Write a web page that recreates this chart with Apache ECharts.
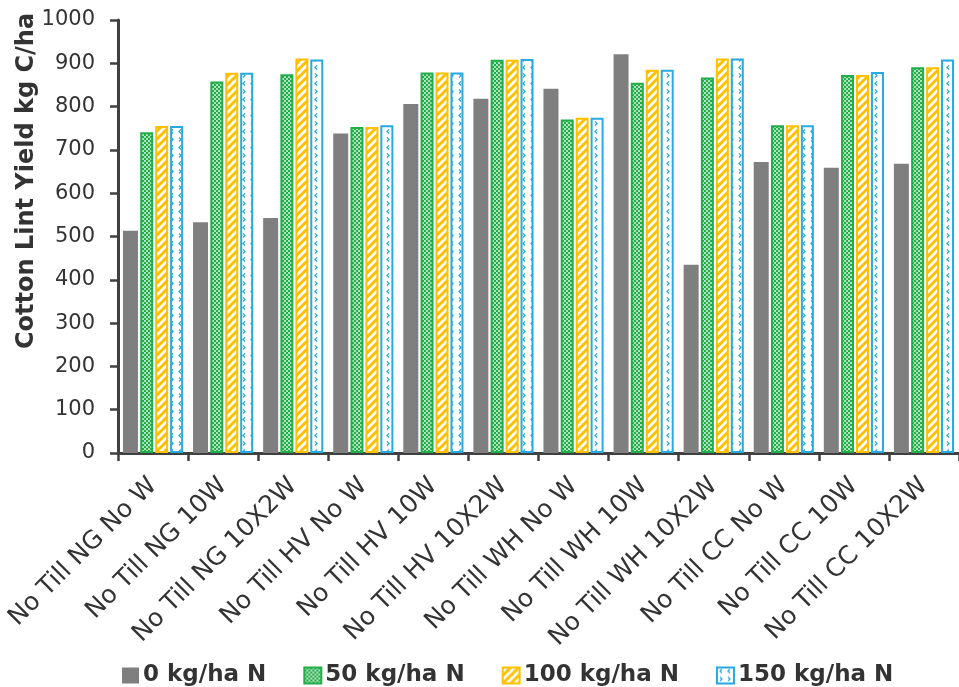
<!DOCTYPE html>
<html>
<head>
<meta charset="utf-8">
<script src="https://cdn.jsdelivr.net/npm/echarts@6/dist/echarts.min.js"></script>
<style>
html,body{margin:0;padding:0;background:#fff;}
#chart{width:959px;height:687px;}
</style>
</head>
<body>
<div id="chart"></div>
<script>
// ---- data ----
const categories = [
  'No Till NG No W', 'No Till NG 10W', 'No Till NG 10X2W',
  'No Till HV No W', 'No Till HV 10W', 'No Till HV 10X2W',
  'No Till WH No W', 'No Till WH 10W', 'No Till WH 10X2W',
  'No Till CC No W', 'No Till CC 10W', 'No Till CC 10X2W'
];
const seriesNames = ['0 kg/ha N', '50 kg/ha N', '100 kg/ha N', '150 kg/ha N'];
const values0   = [513, 533, 543, 738, 806, 818, 841, 921, 435, 672, 659, 668];
const values50  = [741, 858, 875, 753, 879, 908, 770, 855, 867, 757, 873, 891];
const values100 = [755, 878, 911, 753, 879, 908, 774, 885, 911, 757, 873, 891];
const values150 = [755, 878, 909, 757, 879, 910, 774, 885, 911, 757, 880, 909];
const yMin = 0, yMax = 1000, yStep = 100;
const yTitle = 'Cotton Lint Yield kg C/ha';

// ---- fill patterns ----
const GRAY = '#7f7f7f', GREEN = '#22ad4a', ORANGE = '#ffc000', BLUE = '#27aae1';
function tile(w, h, draw) {
  const c = document.createElement('canvas');
  c.width = w; c.height = h;
  const ctx = c.getContext('2d');
  ctx.fillStyle = '#ffffff';
  ctx.fillRect(0, 0, w, h);
  draw(ctx);
  return { image: c, repeat: 'repeat' };
}
const checker = tile(4, 4, ctx => {
  ctx.fillStyle = GREEN;
  ctx.fillRect(0, 0, 4, 4);
  ctx.fillStyle = '#ffffff';
  ctx.fillRect(0.2, 0.2, 1.6, 1.6);
  ctx.fillRect(2.2, 2.2, 1.6, 1.6);
});
const stripes = tile(8, 8, ctx => {
  ctx.strokeStyle = ORANGE;
  ctx.lineWidth = 3;
  ctx.beginPath();
  ctx.moveTo(-1, 9); ctx.lineTo(9, -1);
  ctx.moveTo(-5, 5); ctx.lineTo(5, -5);
  ctx.moveTo(3, 13); ctx.lineTo(13, 3);
  ctx.stroke();
});
const chevrons = tile(8, 16, ctx => {
  ctx.strokeStyle = BLUE;
  ctx.lineWidth = 1.3;
  ctx.beginPath();
  ctx.moveTo(5, 1.5); ctx.lineTo(3, 3.5); ctx.lineTo(5, 5.5);
  ctx.moveTo(3, 9.5); ctx.lineTo(5, 11.5); ctx.lineTo(3, 13.5);
  ctx.stroke();
});

const chart = echarts.init(document.getElementById('chart'), null, { renderer: 'canvas' });
const AX = '#404040';
function bar(name, data, color, border) {
  return {
    name, type: 'bar', data,
    barWidth: border ? 13 : 15,
    barGap: '15%',
    itemStyle: border ? { color, borderColor: border, borderWidth: 2 } : { color },
    emphasis: { disabled: true }
  };
}
chart.setOption({
  animation: false,
  backgroundColor: '#ffffff',
  grid: { left: 118, right: -10, top: 20, bottom: 234 },
  legend: {
    left: 122, top: 664, padding: 0,
    itemWidth: 17, itemHeight: 16, itemGap: 37,
    icon: 'rect',
    textStyle: { fontFamily: 'DejaVu Sans', fontWeight: 'bold', fontSize: 23, color: '#333333', padding: [0, 0, 0, -1] },
    data: seriesNames
  },
  xAxis: {
    type: 'category', data: categories,
    axisLine: { lineStyle: { color: AX, width: 3 } },
    axisTick: { show: true, length: 8, lineStyle: { color: AX, width: 2.5 } },
    axisLabel: {
      interval: 0, rotate: 45, margin: 29,
      fontFamily: 'DejaVu Sans', fontSize: 25, color: '#333333'
    }
  },
  yAxis: {
    type: 'value', min: yMin, max: yMax, interval: yStep,
    splitLine: { show: false },
    axisLine: { show: true, lineStyle: { color: AX, width: 3 } },
    axisTick: { show: true, length: 8, lineStyle: { color: AX, width: 2.5 } },
    axisLabel: {
      margin: 23, fontFamily: 'DejaVu Sans', fontSize: 21, color: '#333333',
      formatter: v => String(v)
    }
  },
  graphic: [{
    type: 'text', x: 27, y: 181, rotation: Math.PI / 2,
    style: {
      text: yTitle, fontFamily: 'DejaVu Sans', fontWeight: 'bold', fontSize: 24,
      fill: '#333333', align: 'center', verticalAlign: 'middle'
    }
  }],
  series: [
    bar(seriesNames[0], values0, GRAY, null),
    bar(seriesNames[1], values50, checker, GREEN),
    bar(seriesNames[2], values100, stripes, ORANGE),
    bar(seriesNames[3], values150, chevrons, BLUE)
  ]
});
</script>
</body>
</html>
